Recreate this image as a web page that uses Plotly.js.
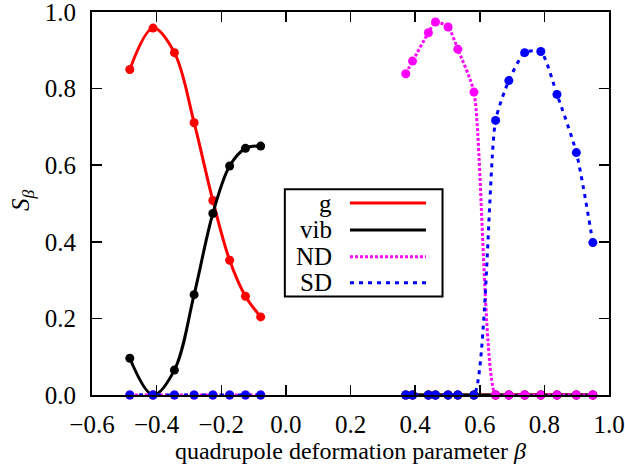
<!DOCTYPE html>
<html>
<head>
<meta charset="utf-8">
<script src="https://cdn.plot.ly/plotly-3.0.1.min.js"></script>
<style>body{margin:0;padding:0;background:#fff;}#chart{width:625px;height:468px;}</style>
</head>
<body>
<div id="chart"></div>
<script>
// beta grid (null = gap between oblate and prolate sides)
const beta = [-0.483, -0.411, -0.345, -0.284, -0.226, -0.174, -0.125, -0.078, null,
              0.371, 0.392, 0.441, 0.463, 0.502, 0.532, 0.582, 0.649, 0.690, 0.739, 0.789, 0.839, 0.899, 0.950];
const gVals   = [0.850, 0.958, 0.894, 0.711, 0.508, 0.352, 0.258, 0.204, null,
                 0, 0, 0, 0, 0, 0, 0, 0, 0, 0, 0, 0, 0, 0];
const vibVals = [0.096, 0.0, 0.065, 0.262, 0.474, 0.598, 0.644, 0.650, null,
                 0, 0, 0, 0, 0, 0, 0, 0, 0, 0, 0, 0, 0, 0];
const ndVals  = [0, 0, 0, 0, 0, 0, 0, 0, null,
                 0.839, 0.872, 0.946, 0.974, 0.961, 0.903, 0.791, 0, 0, 0, 0, 0, 0, 0];
const sdVals  = [0, 0, 0, 0, 0, 0, 0, 0, null,
                 0, 0, 0, 0, 0, 0, 0, 0.717, 0.821, 0.894, 0.897, 0.785, 0.633, 0.398];
const seriesNames = ['g', 'vib', 'ND', 'SD'];
const xTicks = [-0.6, -0.4, -0.2, 0.0, 0.2, 0.4, 0.6, 0.8, 1.0];
const yTicks = [0.0, 0.2, 0.4, 0.6, 0.8, 1.0];

const colors = ['#ff0000', '#000000', '#ff00ff', '#0000ff'];
const dashes = ['solid', 'solid', '3px,2px', '4px,5px'];
const smooth = [1, 1, 0.6, 0.6];
const vals = [gVals, vibVals, ndVals, sdVals];

const FONT = '"Liberation Serif", "Times New Roman", Times, serif';

const traces = vals.map((v, i) => ({
  x: beta, y: v, type: 'scatter', mode: 'lines+markers', name: seriesNames[i],
  line: {color: colors[i], width: 3, dash: dashes[i], shape: 'spline', smoothing: smooth[i]},
  marker: {color: colors[i], size: 9},
  connectgaps: false, cliponaxis: false, showlegend: false
}));

// custom legend (label text left of the sample line, as in the reference)
const lg = {x0: 0.373, x1: 0.678, y0: 0.257, y1: 0.537, tx: 0.468, lx0: 0.499, lx1: 0.646,
            ys: [0.501, 0.431, 0.361, 0.293]};
const shapes = [{type: 'rect', xref: 'paper', yref: 'paper', x0: lg.x0, x1: lg.x1, y0: lg.y0, y1: lg.y1,
  line: {color: '#000', width: 2}, fillcolor: '#fff', layer: 'above'}];
const annotations = [];
seriesNames.forEach((n, i) => {
  shapes.push({type: 'line', xref: 'paper', yref: 'paper', x0: lg.lx0, x1: lg.lx1, y0: lg.ys[i], y1: lg.ys[i],
    line: {color: colors[i], width: 3, dash: dashes[i]}, layer: 'above'});
  annotations.push({xref: 'paper', yref: 'paper', x: lg.tx, y: lg.ys[i], text: n, showarrow: false,
    xanchor: 'right', yanchor: 'middle', font: {family: FONT, size: 25, color: '#000'}});
});
// y-axis title
annotations.push({xref: 'paper', yref: 'paper', x: -0.135, y: 0.51, text: '<i>S</i><sub><i>β</i></sub>',
  showarrow: false, textangle: -90, xanchor: 'center', yanchor: 'middle',
  font: {family: FONT, size: 25, color: '#000'}});

const axisCommon = {
  showgrid: false, zeroline: false, showline: true, linecolor: '#000', linewidth: 2,
  mirror: 'ticks', ticks: 'inside', ticklen: 10, tickwidth: 1.5, tickcolor: '#000',
  tickfont: {family: FONT, size: 25, color: '#000'}, tickformat: '.1f', ticklabeloverflow: 'allow'
};

const layout = {
  width: 625, height: 468,
  margin: {l: 92, r: 16, t: 12, b: 73},
  paper_bgcolor: '#fff', plot_bgcolor: '#fff',
  font: {family: FONT, color: '#000'},
  xaxis: Object.assign({}, axisCommon, {range: [-0.6, 1.0], tickvals: xTicks, ticklabelstandoff: 6,
    title: {text: 'quadrupole deformation parameter <i>β</i>', font: {family: FONT, size: 24}, standoff: 0}}),
  yaxis: Object.assign({}, axisCommon, {range: [0, 1.0001], tickvals: yTicks, ticklabelstandoff: 9}),
  shapes: shapes, annotations: annotations, showlegend: false
};

Plotly.newPlot('chart', traces, layout, {displayModeBar: false, staticPlot: true});
</script>
</body>
</html>
